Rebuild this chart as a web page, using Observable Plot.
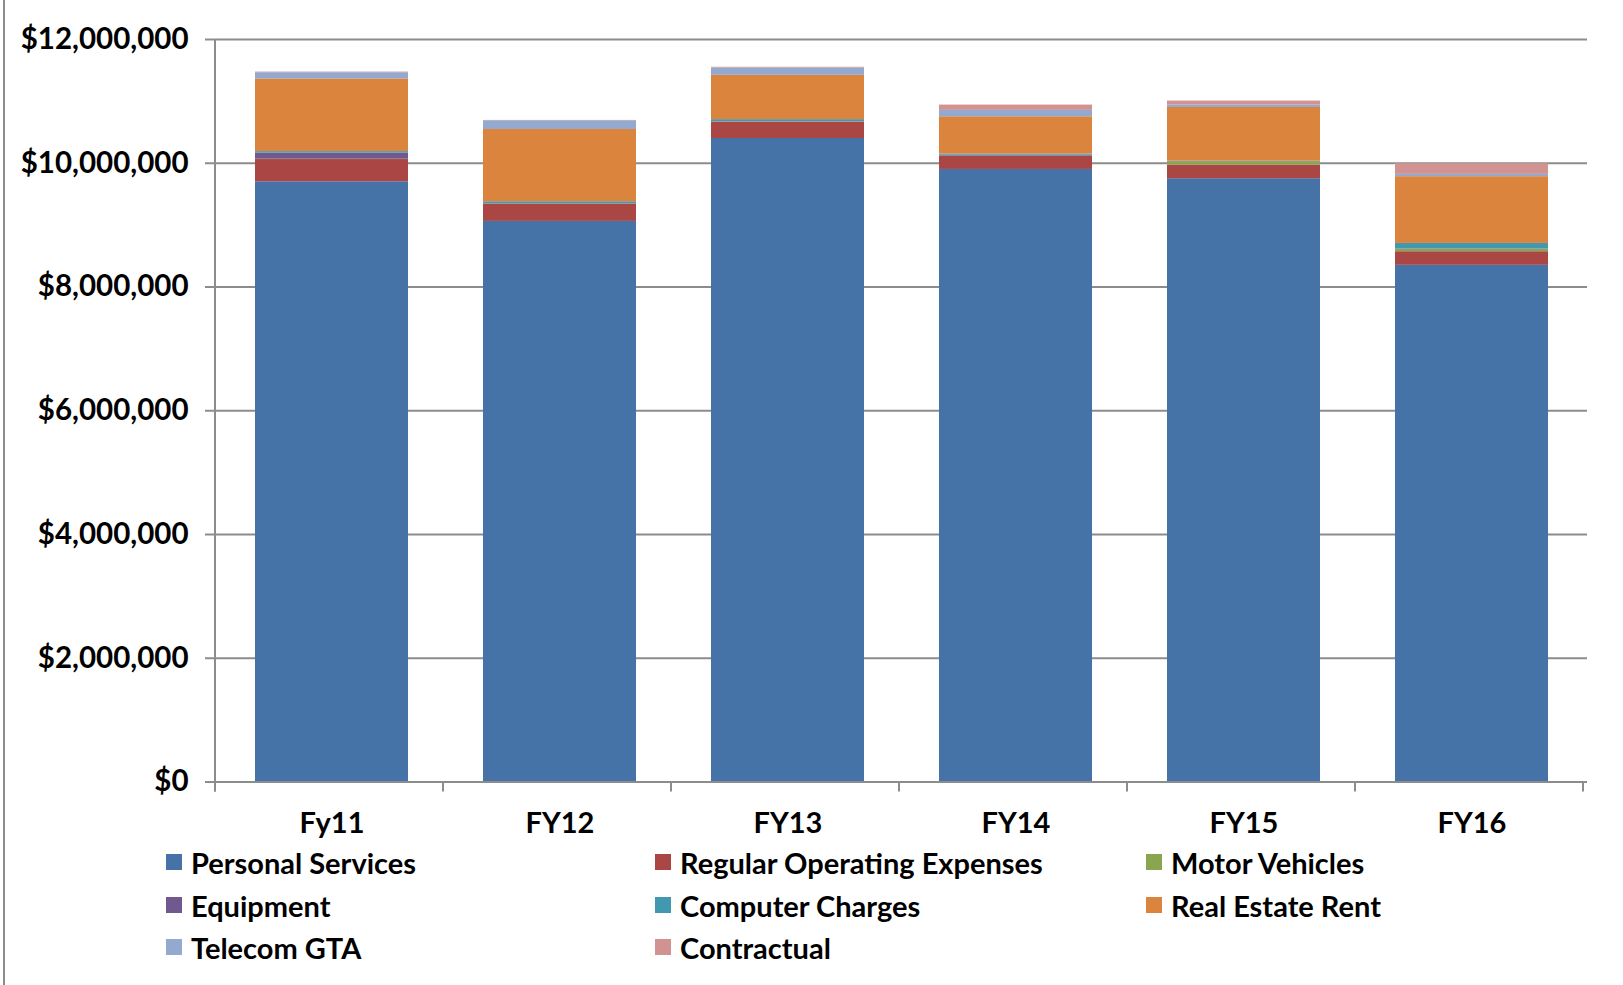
<!DOCTYPE html>
<html>
<head>
<meta charset="utf-8">
<script src="https://cdn.jsdelivr.net/npm/d3@7"></script>
<script src="https://cdn.jsdelivr.net/npm/@observablehq/plot@0.6"></script>
<style>
  html, body { margin: 0; padding: 0; background: #fff; }
  #wrap { position: relative; width: 1623px; height: 985px; overflow: hidden; }
  #border { position: absolute; left: 3px; top: 0; width: 2px; height: 985px; background: #8c8c8c; }
  #chart { position: absolute; left: 0; top: 0; }
  #legend { position: absolute; left: 0; top: 0; width: 1623px; height: 985px; pointer-events: none;
            font-family: Lato, "Open Sans", sans-serif; font-weight: bold; font-size: 29px; color: #000; }
  .item { position: absolute; display: flex; align-items: center; height: 30px; white-space: nowrap; }
  .sw { width: 16px; height: 16px; margin-right: 9px; flex: none; }
</style>
</head>
<body>
<div id="wrap">
  <div id="border"></div>
  <div id="chart"></div>
  <div id="legend"></div>
</div>
<script>
const categories = ["Fy11", "FY12", "FY13", "FY14", "FY15", "FY16"];
const seriesNames = ["Personal Services", "Regular Operating Expenses", "Motor Vehicles", "Equipment",
                     "Computer Charges", "Real Estate Rent", "Telecom GTA", "Contractual"];
const seriesColors = ["#4572A7", "#AA4643", "#89A54E", "#71588F", "#4198AF", "#DB843D", "#93A9CF", "#D19392"];

const personalServices = [9700000, 9060000, 10400000, 9900000, 9750000, 8350000];
const regularOperatingExpenses = [360000, 280000, 263000, 210000, 220000, 220000];
const motorVehicles = [5000, 5000, 5000, 5000, 54000, 39000];
const equipment = [97000, 5000, 5000, 15000, 5000, 5000];
const computerCharges = [26000, 28000, 32000, 18000, 5000, 90000];
const realEstateRent = [1175000, 1168000, 716000, 603000, 867000, 1079000];
const telecomGTA = [100000, 141000, 120000, 103000, 39000, 37000];
const contractual = [10000, 5000, 10000, 86000, 65000, 173000];

const yTicks = [0, 2000000, 4000000, 6000000, 8000000, 10000000, 12000000];

const seriesValues = [personalServices, regularOperatingExpenses, motorVehicles, equipment,
                      computerCharges, realEstateRent, telecomGTA, contractual];

const rows = [];
seriesNames.forEach((s, si) => {
  categories.forEach((c, ci) => rows.push({category: c, series: s, value: seriesValues[si][ci]}));
});

const W = 1623, H = 850;
const fmt = d3.format("$,");
const gridColor = "#8c8c8c";
const labelFont = "Lato, 'Open Sans', sans-serif";

const plot = Plot.plot({
  width: W,
  height: H,
  marginLeft: 215,
  marginRight: 36,
  marginTop: 39,
  marginBottom: H - 781.5,
  x: {type: "band", domain: categories, paddingInner: 0.33, paddingOuter: 0.165, label: null},
  y: {domain: [0, 12000000], label: null},
  color: {domain: seriesNames, range: seriesColors},
  marks: [
    Plot.ruleY(yTicks, {stroke: gridColor, strokeWidth: 2}),
    Plot.barY(rows, {x: "category", y: "value", fill: "series"}),
    Plot.ruleY([0], {stroke: gridColor, strokeWidth: 2}),
    Plot.axisY({ticks: yTicks, tickFormat: fmt, tickSize: 10, tickPadding: 17,
                stroke: gridColor, strokeWidth: 2, fill: "#000", fontSize: 29.5,
                fontWeight: "bold", fontFamily: labelFont, label: null}),
    Plot.axisX({tickSize: 0, tickPadding: 30, fill: "#000", fontSize: 29,
                fontWeight: "bold", fontFamily: labelFont, label: null})
  ]
});

document.getElementById("chart").appendChild(plot);

// axis lines and category boundary ticks from the plot's own scales
const xs = plot.scale("x"), ys = plot.scale("y");
const svg = d3.select(plot);
const y0 = ys.apply(0), yTop = ys.apply(12000000);
const left = xs.range[0];
const g = svg.append("g").attr("stroke", gridColor).attr("stroke-width", 2);
g.append("line").attr("x1", left).attr("x2", left).attr("y1", yTop).attr("y2", y0 + 10);
for (let i = 0; i <= categories.length; i++) {
  const x = left + i * xs.step;
  g.append("line").attr("x1", x).attr("x2", x).attr("y1", y0).attr("y2", y0 + 10);
}

// legend
const legendCols = [166, 655, 1146];
const legendRows = [862, 905, 947];
const legend = document.getElementById("legend");
seriesNames.forEach((s, i) => {
  const div = document.createElement("div");
  div.className = "item";
  div.style.left = legendCols[i % 3] + "px";
  div.style.top = (legendRows[Math.floor(i / 3)] - 15) + "px";
  const sw = document.createElement("span");
  sw.className = "sw";
  sw.style.background = seriesColors[i];
  const t = document.createElement("span");
  t.textContent = s;
  div.appendChild(sw);
  div.appendChild(t);
  legend.appendChild(div);
});
</script>
</body>
</html>
